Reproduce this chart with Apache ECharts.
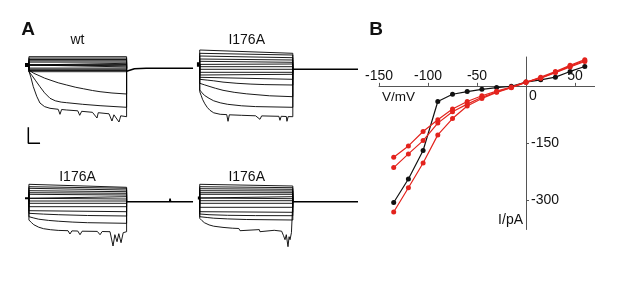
<!DOCTYPE html>
<html><head><meta charset="utf-8">
<script src="https://cdn.jsdelivr.net/npm/echarts@6/dist/echarts.min.js"></script>
<style>html,body{margin:0;padding:0;background:#fff}#c{width:617px;height:292px}</style>
</head><body><div id="c"></div>
<script>
// ---------- Panel B: I-V data ----------
const voltages = [-135,-120,-105,-90,-75,-60,-45,-30,-15,0,15,30,45,60];
const wtIV     = [-307,-245,-170,-41,-22,-15,-9,-4.5,-1,10,16,23,38,51];
const mutIV1   = [-188,-158,-120,-89,-61,-41,-26,-14,-3,10,21,36,52,66];
const mutIV2   = [-215,-179,-144,-98,-68,-48,-30,-16,-4,10,20,35,50,64];
const mutIV3   = [-332,-268,-203,-129,-86,-53,-33,-17,-5,9,23,38,54,69];
const ivXTicks = [-150,-100,-50,50];
const ivYTicks = [-150,-300];

// ---------- Panel A: current traces (time ms, current a.u.) ----------
// flat traces: [start, end] of pulse
const wtFlat  = [[11.6,11.6],[10.2,10.2],[8.8,8.8],[7.5,7.5],[6.2,6.2],[5,5],[3.8,3.8],[2.6,2.6],[1.4,1.4],[0.2,0.2],[-1,-1],[-2.2,-2.2],[-3.4,-3.4]];
const wtCurves = [
 [[0,-1.7],[20,-3],[50,-5],[113,-7.7],[160,-9.8],[216,-11.7],[300,-14.5],[387,-16.7],[480,-19],[560,-20.5],[650,-22.2],[728,-23.4],[850,-24.7],[1000,-25.7]],
 [[0,-3.4],[30,-7],[70,-12.5],[113,-18.4],[160,-24.5],[216,-30],[270,-32.5],[330,-33.8],[387,-34.4],[550,-36],[728,-37.4],[1000,-39]],
 [[0,-2.7],[20,-9],[45,-18.4],[80,-28],[113,-34.7],[160,-38.3],[216,-40],[300,-41],[318,-46],[335,-41.2],[387,-41.7],[500,-42.5],[520,-47],[540,-43],[650,-44],[697,-49.7],[710,-44.4],[728,-44.7],[820,-45.5],[850,-52.7],[870,-46.5],[922,-53.7],[940,-47.5],[1000,-48.4]]
];
const wtTail = [[1000,-3],[1020,-1.5],[1080,-0.5],[1200,0],[1680,0]];
const wtHold = 3.3;

const trFlat = [[19.3,16],[16,14.3],[13.3,11.6],[10.3,9.3],[8,7],[5.3,5.3],[2.6,2.6],[0,0],[-3,-3],[-5.7,-5],[-8,-10]];
const trCurves = [
 [[0,-10],[80,-10.8],[150,-11.5],[250,-12.8],[400,-14],[550,-14.8],[700,-15.3],[1000,-15.7]],
 [[0,-14],[50,-15.5],[100,-17],[170,-19],[250,-21],[370,-23],[500,-24.5],[750,-26.5],[1000,-27.4]],
 [[0,-20.7],[25,-23.5],[50,-26],[100,-29],[150,-31.5],[220,-33.5],[300,-35],[450,-36.5],[600,-37.3],[1000,-38]],
 [[0,-22.4],[15,-26],[30,-30],[55,-34.5],[80,-38],[110,-41],[150,-43.5],[220,-45],[290,-45.3],[304,-52],[318,-45.5],[450,-46],[600,-46.5],[647,-50],[665,-46.6],[850,-47],[862,-51],[875,-47],[930,-47.2],[937,-52],[950,-47.3],[1000,-47.4]]
];
const trTail = [[1000,0],[1700,0]];
const trHold = 4.9;

const blFlat = [[17.4,14.4],[15,13.4],[13.4,11.7],[11,10],[9,8.4],[7.4,6.7],[5,5],[2.7,2.7],[0.7,0.7],[-1.6,-1.6],[-5,-5],[-9,-10]];
const blCurves = [
 [[0,-11.6],[150,-12.4],[300,-13],[600,-13.8],[1000,-14.3]],
 [[0,-15],[50,-16.3],[100,-17.5],[200,-18.7],[300,-19.5],[450,-20.4],[600,-21],[1000,-21.6]],
 [[0,-18.3],[25,-20.8],[50,-23],[100,-25.5],[150,-27],[220,-28],[300,-28.7],[400,-29],[420,-32.3],[440,-29.2],[500,-29.3],[523,-33],[545,-29.5],[700,-29.7],[728,-33],[750,-29.8],[830,-30],[861,-44.3],[880,-33],[902,-40],[920,-32],[943,-41],[965,-31],[1000,-30]]
];
const blTail = [[1000,0],[1440,0],[1445,3],[1450,0],[1680,0]];
const blHold = 3.4;

const brFlat = [[17.4,15.7],[15,14],[13,12.4],[11,10.7],[9,9],[7.4,7.4],[5,5],[3,3],[1,1],[-1.6,-1.6],[-5.6,-5.6],[-10,-10.6]];
const brCurves = [
 [[0,-12.3],[100,-13],[300,-13.6],[600,-13.9],[1000,-14]],
 [[0,-15],[80,-15.8],[150,-16.5],[300,-17.2],[500,-17.8],[1000,-18.3]],
 [[0,-16.6],[25,-19],[50,-21],[100,-23.2],[150,-24.5],[250,-25.7],[350,-26.5],[420,-26.8],[433,-29],[445,-27],[640,-27.9],[647,-30],[655,-28],[800,-28.6],[880,-29.5],[900,-34],[916,-38],[930,-33],[948,-45],[960,-35],[970,-38],[985,-31],[1000,-30]]
];
const brTail = [[1000,0],[1700,0]];
const brHold = 3.7;

const scaleBar = [[-6,-59],[-6,-75],[114,-75]];

const FONT = '"Liberation Sans", Arial, sans-serif';
const RED = '#e3231d';

const chart = echarts.init(document.getElementById('c'), null, {renderer:'canvas'});

const ivGrid = {left:379, top:57, width:215.6, height:172.5};
const ivX = {min:-150, max:70}, ivY = {min:-378, max:76};
// pixel offsets so that the axes cross at the origin
const xOff = -(ivGrid.height * (0 - ivY.min) / (ivY.max - ivY.min));
const yOff = -(ivGrid.width * (0 - ivX.min) / (ivX.max - ivX.min));

const grids = [
  {left:25,  top:46.3,  width:170, height:100},
  {left:196, top:47.3,  width:162, height:100},
  {left:25,  top:179.7, width:170, height:72},
  {left:196, top:179.7, width:162, height:72},
  ivGrid
];
const yRanges = [[-78,22],[-78,22],[-50,22],[-50,22]];

const xAxes = [], yAxes = [];
for (let i=0;i<4;i++){
  xAxes.push({type:'value', gridIndex:i, min:-40, max:1700, show:false});
  yAxes.push({type:'value', gridIndex:i, min:yRanges[i][0], max:yRanges[i][1], show:false});
}
xAxes.push({type:'value', gridIndex:4, min:ivX.min, max:ivX.max, position:'bottom', offset:xOff,
  axisLine:{onZero:false, lineStyle:{color:'#555', width:1}},
  axisTick:{show:true, inside:true, length:3, customValues:ivXTicks, lineStyle:{color:'#555'}},
  axisLabel:{inside:true, margin:3, customValues:ivXTicks, fontSize:14, color:'#111', fontFamily:FONT},
  splitLine:{show:false}});
yAxes.push({type:'value', gridIndex:4, min:ivY.min, max:ivY.max, position:'left', offset:yOff,
  axisLine:{onZero:false, lineStyle:{color:'#555', width:1}},
  axisTick:{show:true, inside:true, length:3, customValues:ivYTicks, lineStyle:{color:'#555'}},
  axisLabel:{inside:true, margin:5, customValues:ivYTicks, fontSize:14, color:'#111', fontFamily:FONT},
  splitLine:{show:false}});

const series = [];
function line(gi, data, width, color){
  series.push({type:'line', xAxisIndex:gi, yAxisIndex:gi, data:data, symbol:'none',
    lineStyle:{color:color||'#000', width:width}, animation:false, silent:true, z:2});
}
function panel(gi, flat, curves, tail, hold, holdStart, holdWidth){
  flat.forEach(f => line(gi, [[0,hold],[0,f[0]],[1000,f[1]],[1000,0]], 0.9));
  curves.forEach(c => line(gi, [[0,hold]].concat(c).concat([[1000,0]]), 0.9));
  line(gi, tail, 1.6);
  line(gi, [[holdStart,hold],[0,hold]], holdWidth);
}
panel(0, wtFlat, wtCurves, wtTail, wtHold, -40, 4);
panel(1, trFlat, trCurves, trTail, trHold, -30, 4.5);
panel(2, blFlat, blCurves, blTail, blHold, -40, 2);
panel(3, brFlat, brCurves, brTail, brHold, -20, 3);
line(0, scaleBar, 1.5);

function ivSeries(vals, color){
  series.push({type:'line', xAxisIndex:4, yAxisIndex:4,
    data: voltages.map((v,i)=>[v, vals[i]]),
    symbol:'circle', symbolSize:5, showSymbol:true,
    itemStyle:{color:color}, lineStyle:{color:color, width:1.2},
    animation:false, z:5});
}
ivSeries(wtIV, '#111');
ivSeries(mutIV1, RED);
ivSeries(mutIV2, RED);
ivSeries(mutIV3, RED);

function txt(text, x, y, size, bold, align){
  return {type:'text', x:x, y:y, z:100, style:{text:text, fill:'#111',
    font:(bold?'bold ':'')+size+'px '+FONT, align:align||'center', verticalAlign:'middle'}};
}

chart.setOption({
  backgroundColor:'#fff',
  grid: grids,
  xAxis: xAxes,
  yAxis: yAxes,
  series: series,
  graphic: [
    txt('A', 28, 30, 19, true),
    txt('B', 376, 30, 19, true),
    txt('wt', 77.5, 40, 14),
    txt('I176A', 246.7, 40, 14),
    txt('I176A', 77.5, 177, 14),
    txt('I176A', 246.7, 177, 14),
    txt('V/mV', 382, 97, 13.5, false, 'left'),
    txt('0', 533, 96.5, 14),
    txt('I/pA', 523, 220, 14, false, 'right')
  ]
});
</script></body></html>
